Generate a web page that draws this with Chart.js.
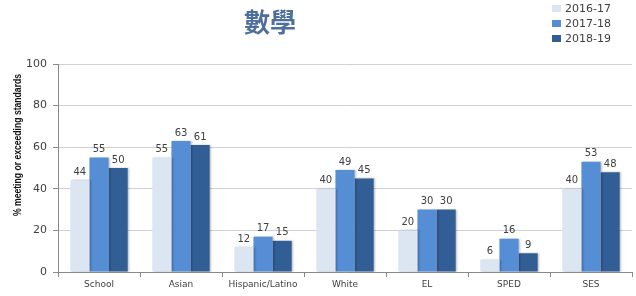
<!DOCTYPE html>
<html>
<head>
<meta charset="utf-8">
<script src="https://cdn.jsdelivr.net/npm/chart.js@4"></script>
<style>
  html, body { margin: 0; padding: 0; background: #fff; }
  #wrap { width: 636px; height: 296px; }
</style>
</head>
<body>
<div id="wrap"><canvas id="chart1" width="636" height="296"></canvas></div>
<script>
const categories = ['School', 'Asian', 'Hispanic/Latino', 'White', 'EL', 'SPED', 'SES'];
const years = ['2016-17', '2017-18', '2018-19'];
const values1617 = [44, 55, 12, 40, 20, 6, 40];
const values1718 = [55, 63, 17, 49, 30, 16, 53];
const values1819 = [50, 61, 15, 45, 30, 9, 48];
const yTicks = [0, 20, 40, 60, 80, 100];

const colors = ['#dce6f2', '#558ed5', '#325e96'];
const textColor = '#404040';

// soft shadow behind the bars, then value labels above each bar
const barLabels = {
    id: 'barLabels',
    beforeDatasetsDraw(chart) {
        const ctx = chart.ctx;
        ctx.save();
        ctx.shadowColor = 'rgba(0,0,0,0.25)';
        ctx.shadowBlur = 2;
        ctx.shadowOffsetX = 1.5;
        ctx.shadowOffsetY = 0;
    },
    afterDatasetsDraw(chart) {
        const ctx = chart.ctx;
        ctx.restore();
        ctx.save();
        ctx.font = '10px "DejaVu Sans"';
        ctx.fillStyle = textColor;
        ctx.textAlign = 'center';
        ctx.textBaseline = 'bottom';
        chart.data.datasets.forEach((ds, i) => {
            chart.getDatasetMeta(i).data.forEach((bar, j) => {
                ctx.fillText(ds.data[j], bar.x, bar.y - 3);
            });
        });
        ctx.restore();
    }
};

// title, legend and y axis title
const decorations = {
    id: 'decorations',
    afterDraw(chart) {
        const ctx = chart.ctx;
        ctx.save();
        ctx.font = 'bold 26px "Noto Sans CJK TC"';
        ctx.fillStyle = '#4e6f9c';
        ctx.textAlign = 'center';
        ctx.textBaseline = 'middle';
        ctx.fillText('數學', 270, 22);

        ctx.font = '11px "DejaVu Sans"';
        ctx.textAlign = 'left';
        years.forEach((y, i) => {
            const cy = 8 + i * 15;
            ctx.fillStyle = colors[i];
            ctx.fillRect(552, cy - 3, 9, 7);
            ctx.fillStyle = textColor;
            ctx.fillText(y, 565, cy + 1);
        });

        ctx.translate(18, 145);
        ctx.rotate(-Math.PI / 2);
        ctx.scale(0.82, 1);
        ctx.font = 'bold 10.5px "Liberation Sans"';
        ctx.fillStyle = '#111';
        ctx.textAlign = 'center';
        ctx.fillText('% meeting or exceeding standards', 0, 0);
        ctx.restore();
    }
};

const data = {
    labels: categories,
    datasets: [
        { label: years[0], data: values1617, backgroundColor: colors[0] },
        { label: years[1], data: values1718, backgroundColor: colors[1] },
        { label: years[2], data: values1819, backgroundColor: colors[2] }
    ]
};

const options = {
    responsive: false,
    animation: false,
    layout: { padding: { top: 64, right: 4, left: 0, bottom: 0 } },
    datasets: { bar: { categoryPercentage: 0.7, barPercentage: 1 } },
    plugins: {
        legend: { display: false },
        title: { display: false },
        tooltip: { enabled: false }
    },
    scales: {
        x: {
            afterFit: scale => { scale.height = 24; },
            grid: { offset: true, drawOnChartArea: false, tickLength: 5, color: '#888' },
            border: { color: '#888' },
            ticks: { color: textColor, font: { family: 'DejaVu Sans', size: 9 }, padding: 2, maxRotation: 0 }
        },
        y: {
            min: 0,
            max: 100,
            afterFit: scale => { scale.width = 58; },
            afterBuildTicks: scale => { scale.ticks = yTicks.map(v => ({ value: v })); },
            grid: { color: '#d0d0d0', tickLength: 5, tickColor: '#888' },
            border: { color: '#888' },
            ticks: { color: textColor, font: { family: 'DejaVu Sans', size: 11 }, padding: 6 }
        }
    }
};

new Chart('chart1', { type: 'bar', data, options, plugins: [barLabels, decorations] });
</script>
</body>
</html>
